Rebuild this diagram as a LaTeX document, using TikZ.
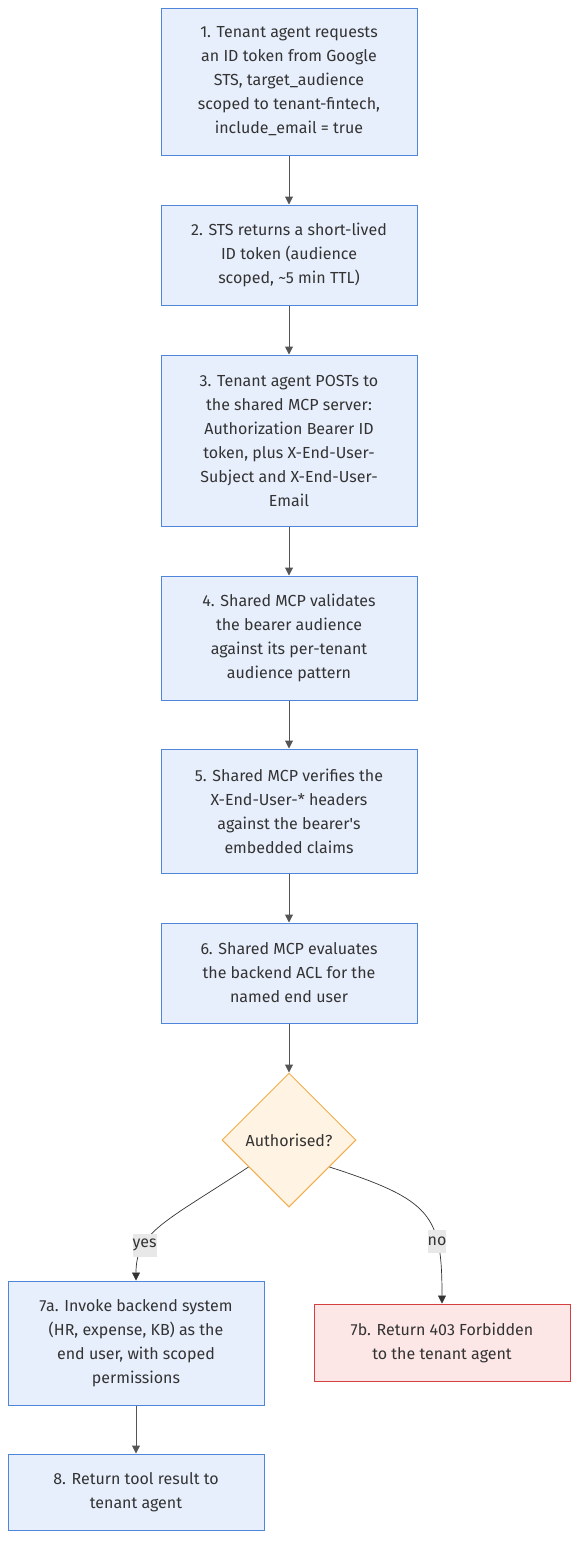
\documentclass[tikz,border=0pt]{standalone}
\usepackage{fontspec}
\setmainfont{Fira Sans}
\usetikzlibrary{shapes.geometric,arrows.meta,calc}
\definecolor{boxfill}{HTML}{E8EFFC}
\definecolor{boxline}{HTML}{4F86DB}
\definecolor{txt}{HTML}{333333}
\definecolor{edge}{HTML}{555555}
\definecolor{decfill}{HTML}{FFF3E3}
\definecolor{decline}{HTML}{F2AE4A}
\definecolor{errfill}{HTML}{FCE6E6}
\definecolor{errline}{HTML}{D43F3F}
\definecolor{lblfill}{HTML}{E8E8E8}
\tikzset{
  stepbox/.style={draw=boxline, fill=boxfill, line width=1pt, minimum width=256pt, align=center,
     text=txt, font=\fontsize{16}{24}\selectfont, inner sep=0pt},
  errbox/.style={stepbox, draw=errline, fill=errfill},
  decbox/.style={diamond, aspect=1, draw=decline, fill=decfill, line width=1pt, minimum width=134pt,
     minimum height=134pt, inner sep=0pt, text=txt, font=\fontsize{16}{24}\selectfont},
  conn/.style={draw=edge, line width=1pt, -{Triangle[length=8pt,width=8pt]}},
  curv/.style={draw=txt, line width=0.7pt, -{Triangle[length=8pt,width=8pt]}},
  lbl/.style={fill=lblfill, text=txt, font=\fontsize{16}{18}\selectfont, inner xsep=0pt,
     minimum height=23pt, inner ysep=0pt}
}
\begin{document}
\begin{tikzpicture}[x=1pt,y=-1pt]
\useasboundingbox (0,0) rectangle (586,1561);
\node[stepbox, minimum height=147pt] (s1) at (289,81.5) {1. Tenant agent requests\\an ID token from Google\\STS, target\_audience\\scoped to tenant-fintech,\\include\_email = true};
\node[stepbox, minimum height=100pt] (s2) at (289,255) {2. STS returns a short-lived\\ID token (audience\\scoped, \textasciitilde5 min TTL)};
\node[stepbox, minimum height=171pt] (s3) at (289,440.5) {3. Tenant agent POSTs to\\the shared MCP server:\\Authorization Bearer ID\\token, plus X-End-User-\\Subject and X-End-User-\\Email};
\node[stepbox, minimum height=124pt] (s4) at (289,638) {4. Shared MCP validates\\the bearer audience\\against its per-tenant\\audience pattern};
\node[stepbox, minimum height=124pt] (s5) at (289,811) {5. Shared MCP verifies the\\X-End-User-* headers\\against the bearer\textquotesingle s\\embedded claims};
\node[stepbox, minimum height=100pt] (s6) at (289,973) {6. Shared MCP evaluates\\the backend ACL for the\\named end user};
\node[decbox] (dec) at (289,1140) {Authorised?};
\node[stepbox, minimum height=124pt] (s7a) at (136,1343) {7a. Invoke backend system\\(HR, expense, KB) as the\\end user, with scoped\\permissions};
\node[errbox, minimum height=77pt] (s7b) at (442,1342.5) {7b. Return 403 Forbidden\\to the tenant agent};
\node[stepbox, minimum height=76pt] (s8) at (136,1492) {8. Return tool result to\\tenant agent};

\coordinate (yesstart) at ($(dec.west)!0.4!(dec.south)$);
\coordinate (nostart) at ($(dec.east)!0.4!(dec.south)$);

\draw[conn] (s1) -- (s2);
\draw[conn] (s2) -- (s3);
\draw[conn] (s3) -- (s4);
\draw[conn] (s4) -- (s5);
\draw[conn] (s5) -- (s6);
\draw[conn] (s6) -- (dec);
\draw[conn] (s7a) -- (s8);
\draw[curv] (yesstart) .. controls (165,1222) and (136,1232) .. node[lbl, pos=0.7] {yes} (s7a.north);
\draw[curv] (nostart) .. controls (432,1200) and (442,1215) .. node[lbl, pos=0.7] {no} (s7b.north);
\end{tikzpicture}
\end{document}
